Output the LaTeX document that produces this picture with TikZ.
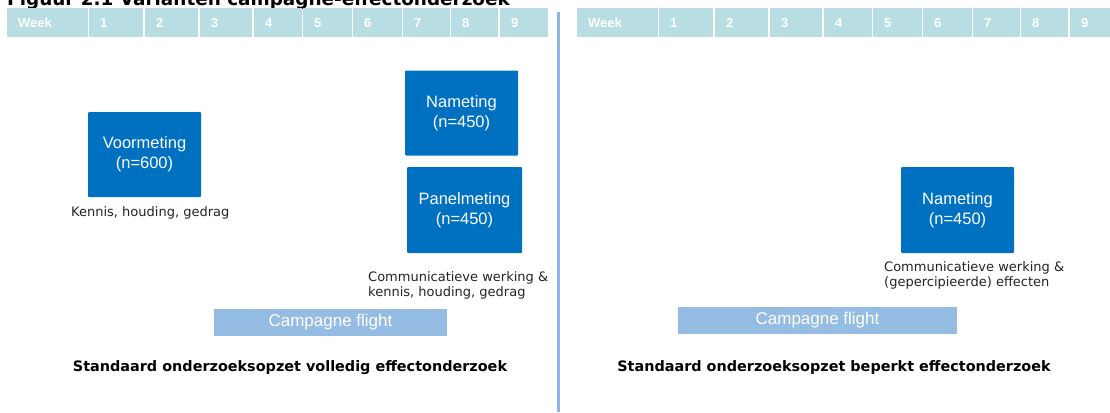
\documentclass[tikz,border=0pt]{standalone}
\usepackage{fontspec}
\setmainfont{DejaVu Sans}
\newfontfamily\arialfont{Liberation Sans}
\usetikzlibrary{positioning}
\definecolor{weekcell}{RGB}{184,222,227}
\definecolor{meetblue}{RGB}{0,112,192}
\definecolor{flightblue}{RGB}{149,189,227}
\definecolor{splitline}{RGB}{141,180,226}
\definecolor{ink}{RGB}{35,35,35}
\tikzset{
  weekbox/.style={fill=weekcell, inner sep=0pt, minimum height=29pt, anchor=north west},
  weeklabel/.style={text=white, font=\arialfont\bfseries\fontsize{13}{15}\selectfont, anchor=west, inner sep=0pt},
  meetbox/.style={fill=meetblue, rounded corners=1pt, text=white, align=center,
    font=\arialfont\fontsize{16.5}{20}\selectfont, inner sep=0pt, minimum width=113pt, minimum height=85pt},
  flightbar/.style={fill=flightblue, text=white, font=\arialfont\fontsize{17}{20}\selectfont,
    inner sep=0pt, minimum height=27pt},
  note/.style={text=ink, font=\fontsize{13}{15}\selectfont, align=left, inner sep=0pt, anchor=west},
  caption/.style={text=black, font=\bfseries\fontsize{14.4}{17}\selectfont, inner sep=0pt},
}
\begin{document}
\begin{tikzpicture}[x=1pt,y=-1pt]
        \useasboundingbox (0,0) rectangle (1110,412);
        % title, cut off at the top
        \node[font=\bfseries\fontsize{18.4}{22}\selectfont, anchor=base west, inner sep=0pt] (title) at (7,6)
          {Figuur 2.1 Varianten campagne-effectonderzoek};
        % week headers
        \foreach \side/\dx in {l/0, r/570} {
          \foreach \i/\xa/\xb/\lbl in {0/7/88/Week, 1/89/143/1, 2/145/198/2, 3/200/252/3, 4/254/302/4,
                                      5/303/352/5, 6/353/402/6, 7/403/450/7, 8/451/498/8, 9/500/548/9} {
            \node[weekbox, minimum width={(\xb-\xa)*1pt}] (\side wk\i) at (\xa+\dx,8) {};
            \node[weeklabel] (\side wl\i) at ([xshift=11pt]\side wk\i.west) {\lbl};
          }
        }
        % divider
        \coordinate (splittop) at (558,12);
        \coordinate (splitbot) at (558,412);
        \draw[splitline, line width=3pt] (splittop) -- (splitbot);
        % left: volledig effectonderzoek
        \node[meetbox] (voor) at (144.5,154.5) {Voormeting\\(n=600)};
        \node[note] (voornote) at (71,213) {Kennis, houding, gedrag};
        \node[meetbox] (nalinks) at (461.5,113) {Nameting\\(n=450)};
        \node[meetbox, minimum width=115pt, minimum height=86pt] (panel) at (464.5,210) {Panelmeting\\(n=450)};
        \node[note] (panelnote) at (368,285) {Communicatieve werking \&\\kennis, houding, gedrag};
        \node[flightbar, minimum width=233pt] (flightlinks) at (330.5,322.5) {Campagne flight};
        \node[caption] (caplinks) at (290,368) {Standaard onderzoeksopzet volledig effectonderzoek};
        % right: beperkt effectonderzoek
        \node[meetbox, minimum height=86pt] (narechts) at (957.5,210) {Nameting\\(n=450)};
        \node[note] (nanote) at (884,275.5) {Communicatieve werking \&\\(gepercipieerde) effecten};
        \node[flightbar, minimum width=279pt] (flightrechts) at (817.5,320.5) {Campagne flight};
        \node[caption] (caprechts) at (834,368) {Standaard onderzoeksopzet beperkt effectonderzoek};
      \end{tikzpicture}
\end{document}
